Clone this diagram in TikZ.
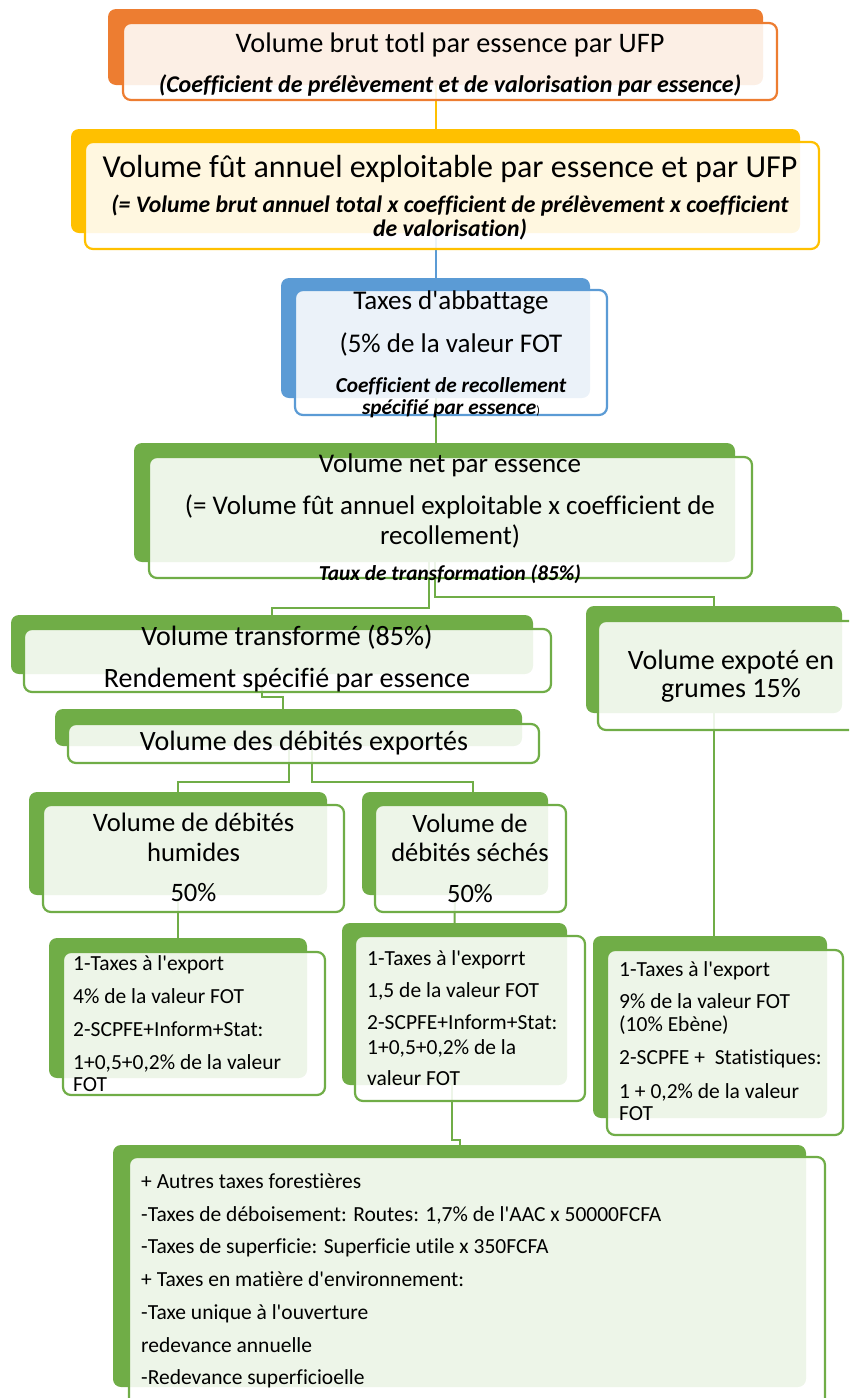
\documentclass[tikz,border=0pt]{standalone}
\usepackage{fontspec}
\setmainfont{Carlito}[Ligatures=NoCommon]
\usepackage{xcolor}
\usepackage{tikz}
\usetikzlibrary{fit,positioning}

\definecolor{orng}{HTML}{ED7D31}
\definecolor{gold}{HTML}{FFC000}
\definecolor{blu}{HTML}{5B9BD5}
\definecolor{grn}{HTML}{70AD47}

\pgfdeclarelayer{bg}
\pgfsetlayers{bg,main}

\begin{document}
\begin{tikzpicture}[x=1pt, y=-1pt,
  back/.style={fill=#1, draw=none, rounded corners=8pt, inner sep=0pt},
  front/.style={fill=white, fill opacity=0.88, draw=#1, draw opacity=1,
    line width=2.2pt, rounded corners=8pt, inner sep=0pt},
  link/.style={draw=#1, line width=2pt},
  lbl/.style={align=center, text=black, inner sep=0pt},
  lst/.style={align=left, anchor=west, text=black, inner sep=0pt,
    font=\fontsize{21.5}{22}\selectfont},
]
  \useasboundingbox (0,0) rectangle (849,1398);
  \clip (0,0) rectangle (849,1398);

  % back plates
  \node[back=orng, fit={(108,9) (763,85)}]    (b1) {};
  \node[back=gold, fit={(71,129) (800,233)}]  (b2) {};
  \node[back=blu,  fit={(281,278) (590,398)}] (b3) {};
  \node[back=grn,  fit={(134,443) (735,562)}] (b4) {};
  \node[back=grn,  fit={(11,615) (533,674)}]  (b5) {};
  \node[back=grn,  fit={(586,606) (842,713)}] (bR) {};
  \node[back=grn,  fit={(55,709) (522,746)}]  (b6) {};
  \node[back=grn,  fit={(29,792) (327,895)}]  (b7) {};
  \node[back=grn,  fit={(362,792) (548,895)}] (b8) {};
  \node[back=grn,  fit={(49,938) (307,1078)}] (b9) {};
  \node[back=grn,  fit={(342,923) (567,1085)}] (b10) {};
  \node[back=grn,  fit={(593,936) (827,1118)}] (b11) {};
  \node[back=grn,  fit={(113,1145) (806,1387)}] (b12) {};

  % links, behind everything
  \begin{pgfonlayer}{bg}
    \draw[link=gold] (b1.south) -- (b2.north);
    \draw[link=blu]  (b2.south) -- (b3.north);
    \draw[link=grn]  (b3.south) -- (b3.south |- b4.north);
    \draw[link=grn]  ([xshift=-6pt]b4.south) |- ([yshift=7pt]b5.north) -- (b5.north);
    \draw[link=grn]  (b4.south) |- ([yshift=9pt]bR.north) -- (bR.north);
    \coordinate (k56) at (283,697);
    \draw[link=grn]  ([xshift=-10pt]b5.south) |- (k56) -- (k56 |- b6.north);
    \draw[link=grn]  (b6.south) |- ([yshift=10pt]b7.north) -- (b7.north);
    \coordinate (k68) at (473,782);
    \draw[link=grn]  ([xshift=23.5pt]b6.south) |- (k68) -- (k68 |- b8.north);
    \draw[link=grn]  (b7.south) -- (b9.north);
    \draw[link=grn]  (b8.south) -- (b10.north);
    \draw[link=grn]  (bR.south) -- (bR.south |- b11.north);
    \draw[link=grn]  ([xshift=-3pt]b10.south) |- ([yshift=5pt]b12.north) -- (b12.north);
  \end{pgfonlayer}

  % front frames
  \node[front=orng, fit={(123,23) (777,100)}]   (f1) {};
  \node[front=gold, fit={(85,142) (819,249)}]   (f2) {};
  \node[front=blu,  fit={(295,290) (607,415)}]  (f3) {};
  \node[front=grn,  fit={(149,457) (752,578)}]  (f4) {};
  \node[front=grn,  fit={(24,629) (551,692)}]   (f5) {};
  \node[front=grn,  fit={(598,621) (864,730)}]  (fR) {};
  \node[front=grn,  fit={(68,724) (539,763)}]   (f6) {};
  \node[front=grn,  fit={(43,805) (344,912)}]   (f7) {};
  \node[front=grn,  fit={(375,805) (566,912)}]  (f8) {};
  \node[front=grn,  fit={(63,952) (325,1095)}]  (f9) {};
  \node[front=grn,  fit={(355,936) (585,1101)}] (f10) {};
  \node[front=grn,  fit={(607,950) (843,1135)}] (f11) {};
  \node[front=grn,  fit={(129,1157) (825,1410)}] (f12) {};

  % texts
  \node[lbl, font=\fontsize{28.3}{40}\selectfont] (t1) at (450,65)
    {Volume brut totl par essence par UFP\\
     {\fontsize{24}{40}\selectfont\bfseries\itshape (Coefficient de prélèvement et de valorisation par essence)}};
  \node[lbl, font=\fontsize{23.7}{24}\selectfont] (t2) at (450,197.5)
    {{\fontsize{32}{24}\selectfont Volume fût annuel exploitable par essence et par UFP}\\[11pt]
     {\bfseries\itshape (= Volume brut annuel total x coefficient de prélèvement x coefficient}\\
     {\bfseries\itshape de valorisation)}};
  \node[lbl, font=\fontsize{27}{22}\selectfont] (t3) at (451,354)
    {Taxes d\textquotesingle abbattage\\[18pt]
     (5\% de la valeur FOT\\[18pt]
     {\fontsize{21.3}{22}\selectfont\bfseries\itshape Coefficient de recollement}\\
     {\fontsize{21.3}{22}\selectfont\bfseries\itshape spécifié par essence}{\fontsize{12}{22}\selectfont)}};
  \node[lbl, font=\fontsize{27}{30}\selectfont] (t4) at (450,519)
    {Volume net par essence\\[12pt]
     (= Volume fût annuel exploitable x coefficient de\\
     recollement)\\[6pt]
     {\fontsize{21.3}{30}\selectfont\bfseries\itshape Taux de transformation (85\%)}};
  \node[lbl, font=\fontsize{28}{42}\selectfont] (t5) at (287,659)
    {Volume transformé (85\%)\\ Rendement spécifié par essence};
  \node[lbl, font=\fontsize{28}{28}\selectfont] (tR) at (731,676)
    {Volume expoté en\\ grumes 15\%};
  \node[lbl, font=\fontsize{28}{28}\selectfont] (t6) at (304,743)
    {Volume des débités exportés};
  \node[lbl, font=\fontsize{26.6}{30}\selectfont] (t7) at (193.5,857)
    {Volume de débités\\ humides\\[10pt] 50\%};
  \node[lbl, font=\fontsize{26.5}{29}\selectfont] (t8) at (470,858)
    {Volume de\\ débités séchés\\[12pt] 50\%};
  \node[lst] (t9) at (73,1023.5)
    {1-Taxes à l\textquotesingle export\\[11pt]
     4\% de la valeur FOT\\[11pt]
     2-SCPFE+Inform+Stat:\\[11pt]
     1+0,5+0,2\% de la valeur\\ FOT};
  \node[lst] (t10) at (367,1018)
    {1-Taxes à l\textquotesingle exporrt\\[10pt]
     1,5 de la valeur FOT\\[10pt]
     2-SCPFE+Inform+Stat:\\[3pt]
     1+0,5+0,2\% de la\\[9pt]
     valeur FOT};
  \node[lst] (t11) at (619,1041.5)
    {1-Taxes à l\textquotesingle export\\[10pt]
     9\% de la valeur FOT\\[1pt]
     (10\% Ebène)\\[11pt]
     2-SCPFE +\ \ Statistiques:\\[12pt]
     1 + 0,2\% de la valeur\\ FOT};
  \node[lst, font=\fontsize{21.5}{32.7}\selectfont] (t12) at (141,1281)
    {+ Autres taxes forestières\\
     -Taxes de déboisement: Routes: 1,7\% de l\textquotesingle AAC x 50000FCFA\\
     -Taxes de superficie: Superficie utile x 350FCFA\\
     + Taxes en matière d\textquotesingle environnement:\\
     -Taxe unique à l\textquotesingle ouverture\\
     redevance annuelle\\
     -Redevance superficioelle};
\end{tikzpicture}
\end{document}
